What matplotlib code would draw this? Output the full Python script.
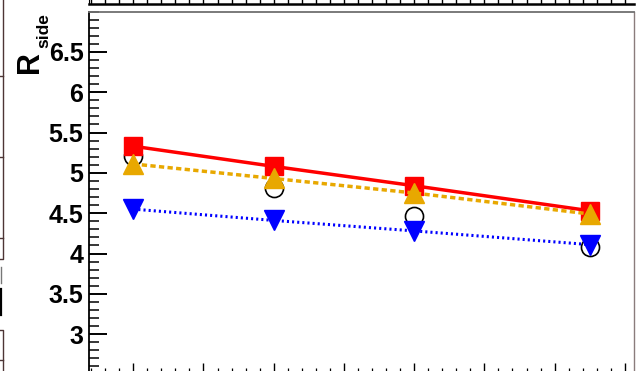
import matplotlib
matplotlib.use("Agg")
import matplotlib.pyplot as plt
from matplotlib.ticker import MultipleLocator, FixedLocator, FixedFormatter
from matplotlib.lines import Line2D

# pair transverse momentum bins and fitted R_side for four selections
kt = [0.2, 0.4, 0.6, 0.85]
r_side_open = [5.21, 4.81, 4.47, 4.08]
r_side_square = [5.33, 5.08, 4.84, 4.53]
r_side_up = [5.11, 4.93, 4.75, 4.49]
r_side_down = [4.55, 4.41, 4.28, 4.11]

ytick_vals = [3, 3.5, 4, 4.5, 5, 5.5, 6, 6.5]
ytick_text = ["3", "3.5", "4", "4.5", "5", "5.5", "6", "6.5"]

W, H = 636, 371
plt.rcParams["font.family"] = ["Liberation Sans", "DejaVu Sans"]
plt.rcParams["lines.scale_dashes"] = False

fig = plt.figure(figsize=(W / 100, H / 100), dpi=100)


def px_rect(x0, y0, x1, y1):
    # pixel box (top-left origin) -> figure fraction rect
    return [x0 / W, 1 - y1 / H, (x1 - x0) / W, (y1 - y0) / H]


def px_line(xs, ys, **kw):
    fig.add_artist(Line2D([x / W for x in xs], [1 - y / H for y in ys],
                          transform=fig.transFigure, **kw))


# bottom edge of the pad sitting above this one
ax_up = fig.add_axes(px_rect(89, -300, 634, 3.5))
ax_up.set_xlim(0.137, 0.913)
ax_up.xaxis.set_major_locator(MultipleLocator(0.1))
ax_up.xaxis.set_minor_locator(MultipleLocator(0.02))
ax_up.tick_params(axis="x", which="both", direction="in", length=8,
                  width=1.0, labelbottom=False)
ax_up.set_yticks([])
for side in ["top", "right"]:
    ax_up.spines[side].set_visible(False)
ax_up.spines["bottom"].set_linewidth(1.8)

ax = fig.add_axes(px_rect(89, 11.5, 634, 374.5))
ax.set_xlim(0.137, 0.913)
ax.set_ylim(2.5, 7.0)

ax.plot(kt, r_side_open, ls="none", marker="o", ms=13, mfc="none",
        mec="black", mew=1.2, zorder=2)
ax.plot(kt, r_side_square, color="#ff0000", lw=2.5, marker="s", ms=13.5,
        mec="#ff0000", zorder=3)
ax.plot(kt, r_side_up, color="#e8a800", lw=2.5, ls=(0, (3.8, 2.4)),
        marker="^", ms=14, mec="#e8a800", zorder=4)
ax.plot(kt, r_side_down, color="#0000ff", lw=2.2, ls=(0, (1.5, 2.2)),
        marker="v", ms=14, mec="#0000ff", zorder=5)

ax.yaxis.set_major_locator(FixedLocator(ytick_vals))
ax.yaxis.set_major_formatter(FixedFormatter(ytick_text))
ax.yaxis.set_minor_locator(MultipleLocator(0.1))
ax.xaxis.set_major_locator(MultipleLocator(0.1))
ax.xaxis.set_minor_locator(MultipleLocator(0.02))

ax.tick_params(axis="y", which="major", direction="in", length=13, width=1.4,
               pad=4, labelsize=18)
ax.tick_params(axis="y", which="minor", direction="in", length=7.2, width=1.1)
ax.tick_params(axis="x", which="major", direction="in", length=8.3, width=1.0,
               labelbottom=False)
ax.tick_params(axis="x", which="minor", direction="in", length=5.4, width=0.9)
for lab in ax.get_yticklabels():
    lab.set_fontweight("bold")

ax.spines["left"].set_linewidth(1.3)
ax.spines["bottom"].set_linewidth(1.3)
ax.spines["top"].set_color("#707070")
ax.spines["top"].set_linewidth(1.3)
ax.spines["right"].set_color("#8a7c7c")
ax.spines["right"].set_linewidth(1.0)

# axis title: R with lowered "side"
fig.text(38 / W, 1 - 73 / H, "R", rotation=90, rotation_mode="anchor",
         ha="left", va="baseline", fontsize=22, fontweight="bold")
fig.text(48 / W, 1 - 48 / H, "side", rotation=90, rotation_mode="anchor",
         ha="left", va="baseline", fontsize=12.5, fontweight="bold")

# right edge of the neighbouring pad on the left
frame = "#4d3535"
px_line([2.5, 2.5, 0], [0, 259, 259], color=frame, lw=1.0)
for yt in [76, 157, 238]:
    px_line([0, 2.5], [yt, yt], color=frame, lw=1.0)
px_line([0.6, 0.6], [267, 283], color="#777777", lw=1.0)
px_line([1.0, 1.0], [289, 315], color="black", lw=1.6)
px_line([0, 2.5, 2.5], [330, 330, 371], color=frame, lw=1.0)
px_line([0, 2.5], [360, 360], color=frame, lw=1.0)

fig.savefig("out.png", dpi=100)
